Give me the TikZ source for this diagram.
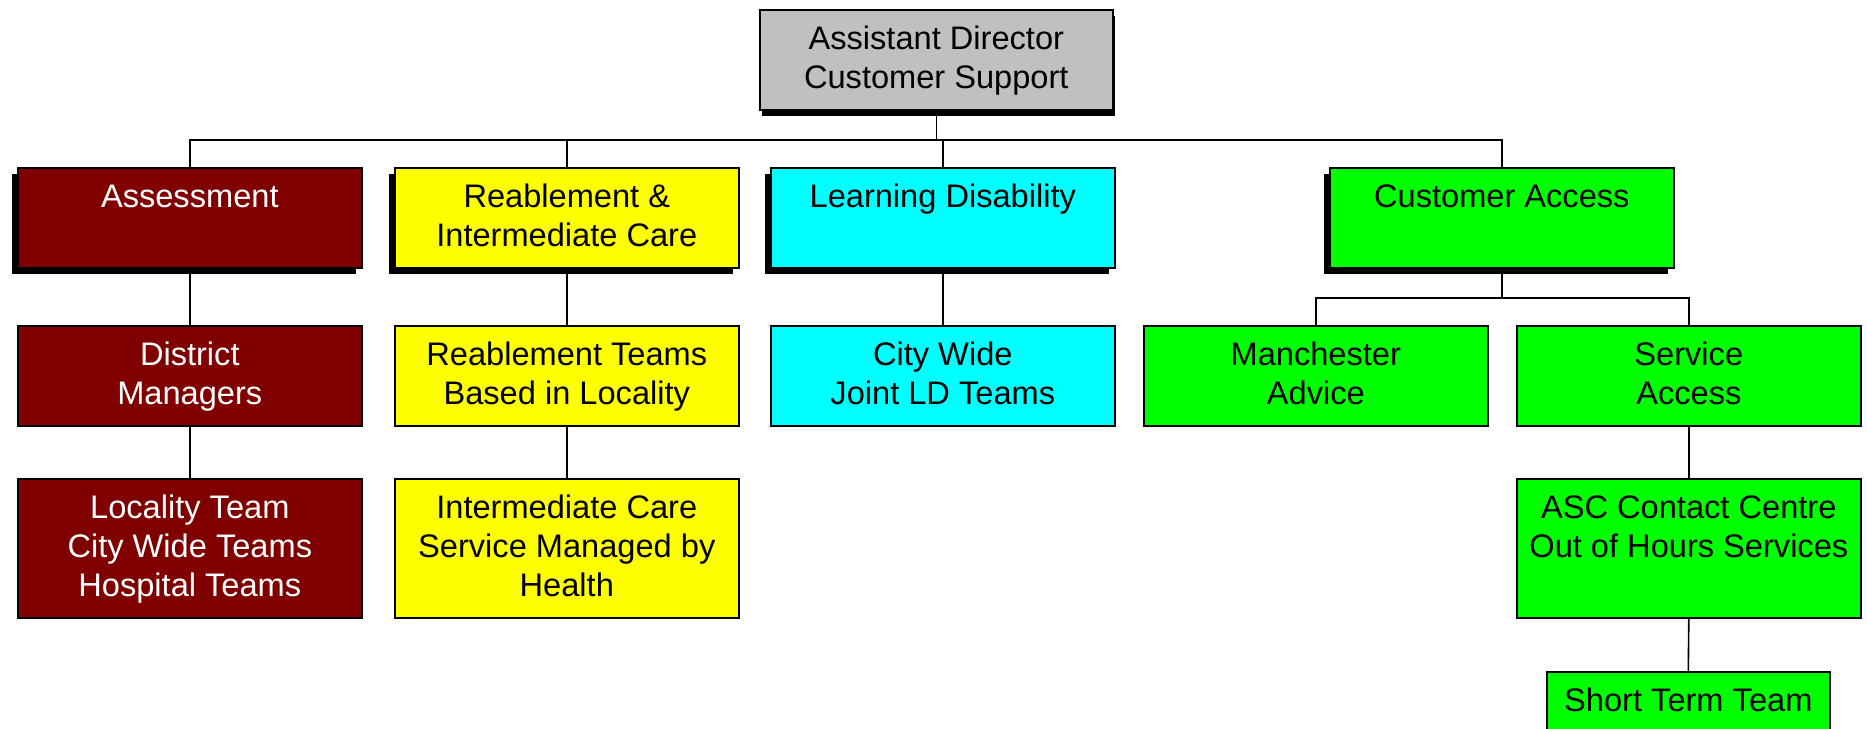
\documentclass[tikz,border=0pt]{standalone}
\usepackage{fontspec}
\setmainfont{Liberation Sans}
\usetikzlibrary{shadows}

\definecolor{headgray}{HTML}{C0C0C0}
\definecolor{assessred}{HTML}{800000}
\definecolor{reabyellow}{HTML}{FFFF00}
\definecolor{ldcyan}{HTML}{00FFFF}
\definecolor{accessgreen}{HTML}{00FF00}

\tikzset{
  unit/.style={draw, line width=1.6pt, minimum width=344pt, minimum height=100pt, anchor=north west, inner sep=0pt},
  head/.style={unit, drop shadow={shadow xshift=-6pt, shadow yshift=-6pt, fill=black, opacity=1}},
  lbl/.style={anchor=north, yshift=-13.5pt, align=center, inner sep=0pt, font=\fontsize{32.6}{38.8}\selectfont},
  link/.style={line width=1.6pt}
}

\begin{document}
\begin{tikzpicture}[x=1pt, y=-1pt]
  \useasboundingbox (0,0) rectangle (1867,728);
  \clip (0,0) rectangle (1867,728);
  \fill[white] (0,0) rectangle (1867,728);
  % top of the chart
  \node[unit, minimum width=353pt, fill=headgray, drop shadow={shadow xshift=2pt, shadow yshift=-6pt, fill=black, opacity=1}, label={[lbl]north:\strut Assistant Director\\Customer Support}] (director) at (759,9) {};
  % first level
  \node[head, fill=assessred, label={[lbl, text=white]north:\strut Assessment}] (assess) at (17,167) {};
  \node[head, fill=reabyellow, label={[lbl]north:\strut Reablement \&\\Intermediate Care}] (reab) at (394,167) {};
  \node[head, fill=ldcyan, label={[lbl]north:\strut Learning Disability}] (disab) at (770,167) {};
  \node[head, fill=accessgreen, label={[lbl]north:\strut Customer Access}] (access) at (1329,167) {};
  % second level
  \node[unit, fill=assessred, label={[lbl, text=white]north:\strut District\\Managers}] (district) at (17,325) {};
  \node[unit, fill=reabyellow, label={[lbl]north:\strut Reablement Teams\\Based in Locality}] (reabteams) at (394,325) {};
  \node[unit, fill=ldcyan, label={[lbl]north:\strut City Wide\\Joint LD Teams}] (citywide) at (770,325) {};
  \node[unit, fill=accessgreen, label={[lbl]north:\strut Manchester\\Advice}] (advice) at (1143,325) {};
  \node[unit, fill=accessgreen, label={[lbl]north:\strut Service\\Access}] (servacc) at (1516,325) {};
  % third level
  \node[unit, minimum height=139pt, fill=assessred, label={[lbl, text=white]north:\strut Locality Team\\City Wide Teams\\Hospital Teams}] (locality) at (17,478) {};
  \node[unit, minimum height=139pt, fill=reabyellow, label={[lbl]north:\strut Intermediate Care\\Service Managed by\\Health}] (intcare) at (394,478) {};
  \node[unit, minimum height=139pt, fill=accessgreen, label={[lbl]north:\strut ASC Contact Centre\\Out of Hours Services}] (contact) at (1516,478) {};
  \node[unit, minimum width=283pt, fill=accessgreen, label={[lbl]north:\strut Short Term Team}] (shortterm) at (1546,671) {};
  % connectors
  \coordinate (bus) at (0,140);
  \coordinate (cabus) at (0,298);
  \draw[link] (director.south) -- (director.south |- bus);
  \draw[link] (assess.north) -- (assess.north |- bus) -| (access.north);
  \draw[link] (reab.north) -- (reab.north |- bus);
  \draw[link] (disab.north) -- (disab.north |- bus);
  \draw[link] (access.south) -- (access.south |- cabus);
  \draw[link] (advice.north) -- (advice.north |- cabus) -| (servacc.north);
  \draw[link] (assess.south) -- (district.north);
  \draw[link] (district.south) -- (locality.north);
  \draw[link] (reab.south) -- (reabteams.north);
  \draw[link] (reabteams.south) -- (intcare.north);
  \draw[link] (disab.south) -- (citywide.north);
  \draw[link] (servacc.south) -- (contact.north);
  \draw[link] (contact.south) -- (shortterm.north);
\end{tikzpicture}
\end{document}
